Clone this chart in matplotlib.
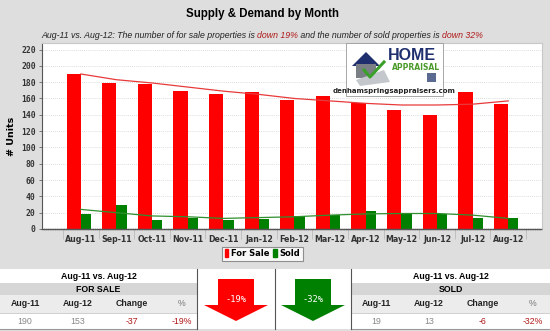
import matplotlib
matplotlib.use("Agg")
import matplotlib.pyplot as plt
from matplotlib.patches import Rectangle, Polygon

# --- data ---
months = ["Aug-11", "Sep-11", "Oct-11", "Nov-11", "Dec-11", "Jan-12", "Feb-12",
          "Mar-12", "Apr-12", "May-12", "Jun-12", "Jul-12", "Aug-12"]
for_sale = [190, 179, 178, 169, 166, 168, 158, 163, 154, 146, 140, 168, 153]
sold = [19, 30, 11, 13, 11, 12, 16, 17, 22, 19, 18, 14, 13]
for_sale_trend = [190, 183, 179, 174, 169, 165, 160, 157, 154, 152, 152, 153, 157]
sold_trend = [24, 20, 16, 15, 13, 14, 15, 17, 18.5, 19, 19, 17, 13]
y_ticks = list(range(0, 221, 20))

RED = "#ff0000"
GREEN = "#008000"
BG = "#dedede"
DARKRED = "#b01818"

fig = plt.figure(figsize=(5.5, 3.31), dpi=100, facecolor=BG)
W, H = 550, 331

# main chart axes (pixel box 42..542 x 43..229)
ax = fig.add_axes([42 / W, 1 - 229 / H, 500 / W, 186 / H])
ax.set_zorder(1)
x = list(range(len(months)))
ax.bar([i + 0.1 for i in x], for_sale, width=0.4, align="edge", color=RED, zorder=2)
ax.bar([i + 0.5 for i in x], sold, width=0.29, align="edge", color=GREEN, zorder=2)
ax.plot([i + 0.5 for i in x], for_sale_trend, color="#e83a3a", lw=0.9, zorder=3)
ax.plot([i + 0.5 for i in x], sold_trend, color="#2f8f2f", lw=0.9, zorder=3)

ax.set_xlim(-0.59, 13.45)
ax.set_ylim(0, 228)
ax.set_yticks(y_ticks)
ax.set_yticklabels([str(v) for v in y_ticks], fontsize=5.8, fontweight="bold",
                   color="#333333", family="DejaVu Sans Mono")
ax.tick_params(axis="y", length=2.5, width=0.6, color="#666666", pad=2)
ax.set_xticks([i + 0.5 for i in x])
ax.set_xticklabels(months, fontsize=5.7, fontweight="bold", color="#333333")
ax.tick_params(axis="x", which="major", length=0, pad=4.5)
ax.set_xticks(list(range(len(months) + 1)), minor=True)
ax.tick_params(axis="x", which="minor", length=7, width=0.6, color="#bbbbbb")
ax.grid(axis="y", color="#d0d0d0", linestyle=(0, (1, 1.5)), lw=0.6, zorder=0)
ax.set_axisbelow(True)
ax.set_ylabel("# Units", fontsize=6.8, fontweight="bold", labelpad=4)
for s in ["top", "right"]:
    ax.spines[s].set_color("#c8c8c8")
    ax.spines[s].set_linewidth(0.8)
ax.spines["left"].set_color("#555555")
ax.spines["left"].set_linewidth(0.8)
ax.spines["bottom"].set_color("#555555")
ax.spines["bottom"].set_linestyle((0, (1, 0.6)))
ax.spines["bottom"].set_linewidth(1.0)

# legend
handles = [Rectangle((0, 0), 1, 1, color=RED), Rectangle((0, 0), 1, 1, color=GREEN)]
leg = fig.legend(handles, ["For Sale", "Sold"], loc="center", bbox_to_anchor=(262.5 / W, 1 - 253.5 / H),
                 ncol=2, frameon=True, fancybox=False, handlelength=0.45,
                 handleheight=1.0, handletextpad=0.3, columnspacing=0.5, borderpad=0.3,
                 prop={"weight": "bold", "size": 6})
leg.get_frame().set_edgecolor("#777777")
leg.get_frame().set_linewidth(0.8)

# overlay in pixel coordinates for title, logo and the summary table
ov = fig.add_axes([0, 0, 1, 1])
ov.set_zorder(5)
ov.set_xlim(0, W)
ov.set_ylim(H, 0)
ov.axis("off")
ov.patch.set_visible(False)

ov.text(262, 14, "Supply & Demand by Month", ha="center", va="center",
        fontsize=8.3, fontweight="bold", family="Liberation Sans")

# subtitle with coloured pieces
pieces = [("Aug-11 vs. Aug-12: The number of for sale properties is ", "#222222"),
          ("down 19%", DARKRED),
          (" and the number of sold properties is ", "#222222"),
          ("down 32%", DARKRED)]
renderer = fig.canvas.get_renderer()
texts = []
for s, c in pieces:
    t = ov.text(0, 35, s, ha="left", va="center", fontsize=6.3, style="italic",
                color=c, family="Liberation Sans")
    texts.append(t)
widths = [t.get_window_extent(renderer).width for t in texts]
xpos = 262 - sum(widths) / 2
for t, w in zip(texts, widths):
    t.set_x(xpos)
    xpos += w

# logo box
ov.add_patch(Rectangle((346, 43), 97, 53, facecolor="white", edgecolor="#999999", lw=0.6))
ov.add_patch(Polygon([(352, 66), (366, 52), (380, 66)], closed=True, facecolor="#1f2f6e"))
ov.add_patch(Rectangle((356, 64), 20, 14, facecolor="#7a7f86"))
ov.add_patch(Polygon([(356, 80), (384, 70), (390, 82), (360, 86)], closed=True, facecolor="#c4c8cc"))
ov.plot([364, 370, 384], [70, 77, 62], color="#3aa02a", lw=2.2)
ov.text(412, 55, "HOME", ha="center", va="center", fontsize=11.5, fontweight="bold",
        color="#1f2f6e", family="Liberation Sans")
ov.text(440, 68, "APPRAISAL", ha="right", va="center", fontsize=5.5, fontweight="bold",
        color="#4a9a2a", family="Liberation Sans Narrow")
ov.add_patch(Rectangle((427, 73), 9, 9, facecolor="#5a6a90"))
ov.text(394.5, 90.5, "denhamspringsappraisers.com", ha="center", va="center",
        fontsize=5.0, fontweight="bold", color="#222222")

# summary table
ov.add_patch(Rectangle((0, 269), W, 60, facecolor="white", edgecolor="none"))


def panel(x0, x1, title, label, first, last):
    ov.add_patch(Rectangle((x0, 283), x1 - x0, 12, facecolor="#d6d6d6", edgecolor="none"))
    ov.add_patch(Rectangle((x0, 295), x1 - x0, 18, facecolor="#ececec", edgecolor="none"))
    ov.plot([x0, x1], [313, 313], color="#c8c8c8", lw=0.6)
    ov.plot([x0, x1], [328.5, 328.5], color="#999999", lw=0.8)
    cx = (x0 + x1) / 2
    ov.text(cx, 276.5, title, ha="center", va="center", fontsize=6.3, fontweight="bold",
            family="Liberation Sans")
    ov.text(cx, 289, label, ha="center", va="center", fontsize=6.3, fontweight="bold",
            family="Liberation Sans")
    cols = [x0 + 25, x0 + 78, x0 + 132, x0 + 182]
    heads = [months[0], months[-1], "Change", "%"]
    change = last - first
    pct = round(100 * change / first)
    vals = [(str(first), "#888888"), (str(last), "#888888"),
            (str(change), DARKRED), ("%d%%" % pct, DARKRED)]
    for cxx, h, (v, c) in zip(cols, heads, vals):
        ov.text(cxx, 304, h, ha="center", va="center", fontsize=6.3,
                fontweight="bold" if h != "%" else "normal",
                color="#222222" if h != "%" else "#777777", family="Liberation Sans")
        ov.text(cxx, 321, v, ha="center", va="center", fontsize=6.3, color=c,
                family="Liberation Sans")
    return pct


pct_sale = panel(0, 197, "Aug-11 vs. Aug-12", "FOR SALE", for_sale[0], for_sale[-1])
pct_sold = panel(351, 550, "Aug-11 vs. Aug-12", "SOLD", sold[0], sold[-1])

for xv in [197, 274.5, 351]:
    ov.plot([xv, xv], [269, 329], color="#555555", lw=0.8)


def arrow(cx, color, txt):
    pts = [(cx - 18, 279), (cx + 18, 279), (cx + 18, 305), (cx + 32, 305),
           (cx, 321), (cx - 32, 305), (cx - 18, 305)]
    ov.add_patch(Polygon(pts, closed=True, facecolor=color, edgecolor="none"))
    ov.text(cx, 300, txt, ha="center", va="center", fontsize=6.3, color="white",
            family="DejaVu Sans Mono")


arrow(236, RED, "%d%%" % pct_sale)
arrow(313, GREEN, "%d%%" % pct_sold)

plt.savefig("out.png", dpi=100, facecolor=BG)
